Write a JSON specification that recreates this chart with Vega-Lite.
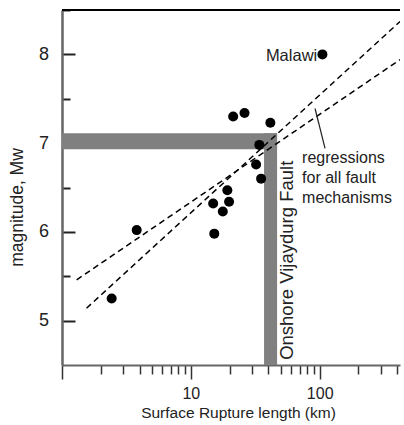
{
  "$schema": "https://vega.github.io/schema/vega-lite/v6.json",
  "width": 338,
  "height": 355,
  "autosize": {"type": "none"},
  "padding": {"left": 62, "top": 10, "right": 4, "bottom": 60},
  "background": "white",
  "config": {"view": {"stroke": null}, "font": "Liberation Sans"},
  "datasets": {
    "bands": [
      {"x": 1, "x2": 46.7, "y": 6.93, "y2": 7.11},
      {"x": 37, "x2": 46.7, "y": 4.5, "y2": 7.11}
    ],
    "lines": [
      {"series": "A", "x": 1.55, "y": 5.14},
      {"series": "A", "x": 420, "y": 8.37},
      {"series": "B", "x": 1.3, "y": 5.46},
      {"series": "B", "x": 420, "y": 7.94}
    ],
    "points": [
      {"x": 3.8, "y": 6.02},
      {"x": 2.43, "y": 5.25},
      {"x": 14.9, "y": 6.32},
      {"x": 15.2, "y": 5.98},
      {"x": 17.7, "y": 6.23},
      {"x": 19.2, "y": 6.47},
      {"x": 19.8, "y": 6.34},
      {"x": 21.3, "y": 7.3},
      {"x": 26.1, "y": 7.34},
      {"x": 41.4, "y": 7.23},
      {"x": 34.0, "y": 6.98},
      {"x": 32.1, "y": 6.76},
      {"x": 35.1, "y": 6.6},
      {"x": 105, "y": 8.0}
    ],
    "pointer": [{"x": 92, "x2": 110, "y": 7.39, "y2": 6.94}],
    "frame": [{"x": 1, "x2": 420, "y": 8.5}],
    "labels": [
      {"x": 95.7, "y": 7.92, "text": "Malawi"}
    ],
    "notes": [
      {"x": 73, "y": 6.773, "text": "regressions\nfor all fault\nmechanisms"}
    ],
    "fault": [{"x": 55.6, "y": 5.68, "text": "Onshore Vijaydurg Fault"}]
  },
  "layer": [
    {
      "data": {"name": "bands"},
      "mark": {"type": "rect", "color": "#808080"},
      "encoding": {
        "x": {
          "field": "x", "type": "quantitative",
          "scale": {"type": "log", "domain": [1, 420], "nice": false},
          "axis": {
            "values": [1,2,3,4,5,6,7,8,9,10,20,30,40,50,60,70,80,90,100,200,300,400],
            "labelExpr": "datum.value == 10 ? '10' : datum.value == 100 ? '100' : ''",
            "tickSize": {"condition": {"test": "datum.value == 1 || datum.value == 10 || datum.value == 100", "value": 14}, "value": 9},
            "labelPadding": 6,
            "labelBaseline": "top",
            "labelFontSize": 16,
            "labelColor": "#222",
            "labelFlush": false,
            "labelOverlap": false,
            "grid": false,
            "domainColor": "#666",
            "domainWidth": 2,
            "tickColor": "#333",
            "tickWidth": 1.5,
            "title": "Surface Rupture length (km)",
            "titleFontSize": 15.5,
            "titleFontWeight": "normal",
            "titleColor": "#222",
            "titleX": 176,
            "titleY": 52.5,
            "titleBaseline": "alphabetic",
            "titleAlign": "center"
          }
        },
        "x2": {"field": "x2"},
        "y": {
          "field": "y", "type": "quantitative",
          "scale": {"domain": [4.5, 8.5], "nice": false, "zero": false},
          "axis": {
            "values": [5, 5.5, 6, 6.5, 7, 7.5, 8, 8.5],
            "labelExpr": "datum.value % 1 == 0 ? format(datum.value, 'd') : ''",
            "tickSize": {"condition": {"test": "datum.value % 1 == 0", "value": -13}, "value": -8},
            "labelPadding": 26.5,
            "labelFontSize": 18,
            "labelColor": "#222",
            "labelFlush": false,
            "labelOverlap": false,
            "grid": false,
            "domainColor": "#666",
            "domainWidth": 2.5,
            "tickColor": "#222",
            "tickWidth": 2,
            "title": "magnitude, Mw",
            "titleFontSize": 17.5,
            "titleFontWeight": "normal",
            "titleColor": "#222",
            "titleAngle": 270,
            "titleX": -44.5,
            "titleY": 197,
            "titleBaseline": "middle",
            "titleAlign": "center"
          }
        },
        "y2": {"field": "y2"}
      }
    },
    {
      "data": {"name": "lines"},
      "mark": {"type": "line", "color": "black", "strokeDash": [6, 4], "strokeWidth": 1.5, "clip": true},
      "encoding": {
        "x": {"field": "x", "type": "quantitative", "scale": {"type": "log", "domain": [1, 420], "nice": false}},
        "y": {"field": "y", "type": "quantitative", "scale": {"domain": [4.5, 8.5], "nice": false, "zero": false}},
        "detail": {"field": "series"}
      }
    },
    {
      "data": {"name": "points"},
      "mark": {"type": "circle", "size": 100, "color": "black", "opacity": 1},
      "encoding": {
        "x": {"field": "x", "type": "quantitative", "scale": {"type": "log", "domain": [1, 420], "nice": false}},
        "y": {"field": "y", "type": "quantitative", "scale": {"domain": [4.5, 8.5], "nice": false, "zero": false}}
      }
    },
    {
      "data": {"name": "pointer"},
      "mark": {"type": "rule", "color": "#222", "strokeWidth": 1.2},
      "encoding": {
        "x": {"field": "x", "type": "quantitative", "scale": {"type": "log", "domain": [1, 420], "nice": false}},
        "x2": {"field": "x2"},
        "y": {"field": "y", "type": "quantitative", "scale": {"domain": [4.5, 8.5], "nice": false, "zero": false}},
        "y2": {"field": "y2"}
      }
    },
    {
      "data": {"name": "frame"},
      "mark": {"type": "rule", "color": "black", "strokeWidth": 2},
      "encoding": {
        "x": {"field": "x", "type": "quantitative", "scale": {"type": "log", "domain": [1, 420], "nice": false}},
        "x2": {"field": "x2"},
        "y": {"field": "y", "type": "quantitative", "scale": {"domain": [4.5, 8.5], "nice": false, "zero": false}}
      }
    },
    {
      "data": {"name": "labels"},
      "mark": {"type": "text", "align": "right", "baseline": "alphabetic", "fontSize": 16.5, "color": "#222"},
      "encoding": {
        "x": {"field": "x", "type": "quantitative", "scale": {"type": "log", "domain": [1, 420], "nice": false}},
        "y": {"field": "y", "type": "quantitative", "scale": {"domain": [4.5, 8.5], "nice": false, "zero": false}},
        "text": {"field": "text"}
      }
    },
    {
      "data": {"name": "notes"},
      "mark": {"type": "text", "align": "left", "baseline": "alphabetic", "fontSize": 16, "lineHeight": 20, "lineBreak": "\n", "color": "#222"},
      "encoding": {
        "x": {"field": "x", "type": "quantitative", "scale": {"type": "log", "domain": [1, 420], "nice": false}},
        "y": {"field": "y", "type": "quantitative", "scale": {"domain": [4.5, 8.5], "nice": false, "zero": false}},
        "text": {"field": "text"}
      }
    },
    {
      "data": {"name": "fault"},
      "mark": {"type": "text", "align": "center", "baseline": "middle", "angle": 270, "fontSize": 18.5, "color": "#222"},
      "encoding": {
        "x": {"field": "x", "type": "quantitative", "scale": {"type": "log", "domain": [1, 420], "nice": false}},
        "y": {"field": "y", "type": "quantitative", "scale": {"domain": [4.5, 8.5], "nice": false, "zero": false}},
        "text": {"field": "text"}
      }
    }
  ]
}
